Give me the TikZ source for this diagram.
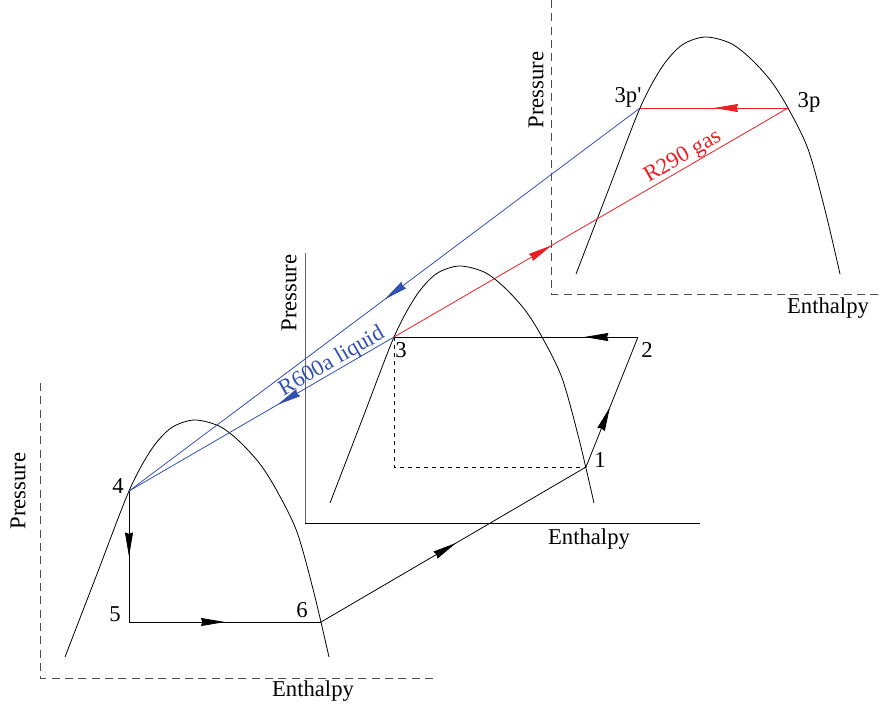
\documentclass[tikz,border=0pt]{standalone}
\usepackage{fontspec}
\setmainfont{Liberation Serif}
\usetikzlibrary{arrows.meta,decorations.markings}
\definecolor{myblue}{RGB}{50,80,175}
\definecolor{myred}{RGB}{235,30,35}
\newcommand{\straightquote}{\XeTeXglyph\XeTeXglyphindex "quotesingle"\relax}
\tikzset{
  ln/.style={line width=0.6pt},
  axdash/.style={line width=0.7pt, black!70, dash pattern=on 6pt off 4pt},
  smalldash/.style={line width=0.6pt, dash pattern=on 3pt off 3pt},
  midarrow/.style={postaction={decorate},decoration={markings,
     mark=at position #1 with {\arrow{Stealth[length=18pt,width=6pt,inset=1pt]}}}},
  lbl/.style={font=\fontsize{17}{20}\selectfont, inner sep=0pt},
  dome/.pic={\draw[ln] plot[smooth,tension=0.5] coordinates {(0,0) (32,-83) (64,-166) (86,-207) (106,-229) (129,-237) (154,-231) (174,-216) (195,-193) (212,-166) (232,-125) (249,-64) (264,0)};}
}
\begin{document}
\begin{tikzpicture}[x=0.75pt,y=-0.75pt]
\useasboundingbox (0,0) rectangle (880,708);

% ---------- axes ----------
\coordinate (Ltop) at (40,383);
\coordinate (Lor) at (40,678);
\coordinate (Lend) at (436,678);
\draw[axdash] (Ltop) -- (Lor) -- (Lend);

\coordinate (Mtop) at (305,253);
\coordinate (Mor) at (305,523);
\coordinate (Mend) at (700,523);
\draw[ln, black!60] (Mtop) -- (Mor);
\draw[ln] (Mor) -- (Mend);

\coordinate (Rtop) at (551,0);
\coordinate (Ror) at (551,294);
\coordinate (Rend) at (880,294);
\draw[axdash] (Rtop) -- (Ror) -- (Rend);

% ---------- axis labels ----------
\node[lbl, rotate=90] (LP) at (18,491) {Pressure};
\node[lbl] (LH) at (313,691) {Enthalpy};
\node[lbl, rotate=90] (MP) at (289,293) {Pressure};
\node[lbl] (MH) at (589,539) {Enthalpy};
\node[lbl, rotate=90] (RP) at (536,90) {Pressure};
\node[lbl] (RH) at (828,308) {Enthalpy};

% ---------- domes ----------
\pic at (65,657) {dome};
\pic at (330,503) {dome};
\pic at (576,274) {dome};

% ---------- state points ----------
\coordinate (p4) at (129,491);
\coordinate (p5) at (129,622);
\coordinate (p6) at (321,622);
\coordinate (p3) at (394,337);
\coordinate (p2) at (638,337);
\coordinate (p1) at (586,467);
\coordinate (p3c) at (394,467);
\coordinate (p3pp) at (640,108);
\coordinate (p3p) at (788,108);

% ---------- cycle lines ----------
\draw[ln, midarrow=0.5] (p4) -- (p5);
\draw[ln, midarrow=0.5] (p5) -- (p6);
\draw[ln, midarrow=0.51] (p6) -- (p1);
\draw[ln, midarrow=0.46] (p1) -- (p2);
\draw[ln, midarrow=0.22] (p2) -- (p3);
\draw[smalldash] (p3) -- (p3c) -- (p1);

% ---------- transfer lines ----------
\draw[ln, myred, midarrow=0.5] (p3p) -- (p3pp);
\draw[ln, myred, midarrow=0.40] (p3) -- (p3p);
\draw[ln, myblue, midarrow=0.50] (p3pp) -- (p4);
\draw[ln, myblue, midarrow=0.44] (p3) -- (p4);

% ---------- point labels ----------
\node[lbl] (l4) at (118,486) {4};
\node[lbl] (l5) at (115,614) {5};
\node[lbl] (l6) at (302,610) {6};
\node[lbl] (l3) at (401,350) {3};
\node[lbl] (l2) at (647,350) {2};
\node[lbl] (l1) at (600,460) {1};
\node[lbl] (l3pp) at (628,97) {3p\straightquote};
\node[lbl] (l3p) at (809,102) {3p};

% ---------- stream labels ----------
\node[lbl, myblue, rotate=30] (liq) at (332,362) {R600a liquid};
\node[lbl, myred, rotate=30] (gas) at (683,157) {R290 gas};
\end{tikzpicture}
\end{document}
